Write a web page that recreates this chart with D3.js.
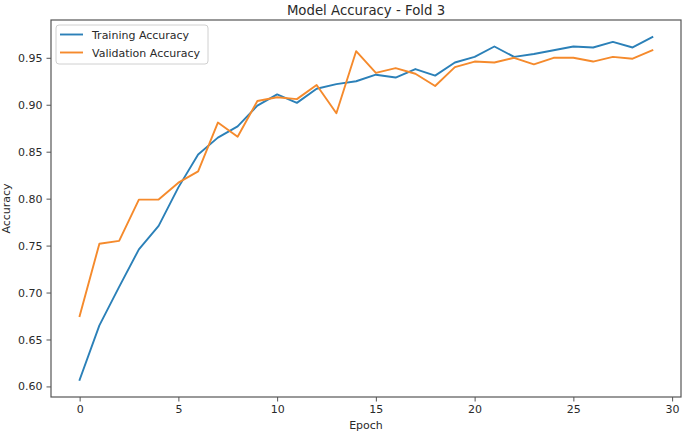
<!DOCTYPE html>
<html>
<head>
<meta charset="utf-8">
<script src="https://cdn.jsdelivr.net/npm/d3@7"></script>
<style>
  html, body { margin: 0; padding: 0; background: #fff; }
  svg { display: block; font-family: "DejaVu Sans", sans-serif; }
</style>
</head>
<body>
<svg id="chart" width="685" height="437"></svg>
<script>
const epochs = d3.range(0, 30);
const trainingAccuracy = [0.607, 0.665, 0.706, 0.746, 0.771, 0.812, 0.847, 0.865, 0.877, 0.899,
  0.911, 0.902, 0.917, 0.922, 0.925, 0.932, 0.929, 0.938, 0.931, 0.945,
  0.951, 0.962, 0.951, 0.954, 0.958, 0.962, 0.961, 0.967, 0.961, 0.972];
const validationAccuracy = [0.675, 0.752, 0.755, 0.799, 0.799, 0.817, 0.829, 0.881, 0.866, 0.904,
  0.908, 0.906, 0.921, 0.891, 0.957, 0.934, 0.939, 0.933, 0.920, 0.940,
  0.946, 0.945, 0.950, 0.943, 0.950, 0.950, 0.946, 0.951, 0.949, 0.958];
const seriesNames = ["Training Accuracy", "Validation Accuracy"];
const xTicks = [0, 5, 10, 15, 20, 25, 30];
const yTicks = [0.60, 0.65, 0.70, 0.75, 0.80, 0.85, 0.90, 0.95];
const titleText = "Model Accuracy - Fold 3";
const xLabel = "Epoch";
const yLabel = "Accuracy";

const colors = ["#2b80b8", "#f58a2c"];
const m = { left: 51, right: 681, top: 20, bottom: 397 };
const svg = d3.select("#chart");

const allVals = trainingAccuracy.concat(validationAccuracy);
const yMin = d3.min(allVals), yMax = d3.max(allVals);
const yPad = (yMax - yMin) * 0.05;
const xPad = (epochs[epochs.length - 1] - epochs[0]) * 0.05;

const x = d3.scaleLinear().domain([epochs[0] - xPad, epochs[epochs.length - 1] + xPad]).range([m.left, m.right]);
const y = d3.scaleLinear().domain([yMin - yPad, yMax + yPad]).range([m.bottom, m.top]);

const fontSize = 11;
const axisColor = "#555";
const textColor = "#2a2a2a";

// X axis
const xAxis = svg.append("g").attr("transform", `translate(0,${m.bottom})`)
  .call(d3.axisBottom(x).tickValues(xTicks).tickFormat(d3.format("d")).tickSize(4.5).tickPadding(4));
// Y axis
const yAxis = svg.append("g").attr("transform", `translate(${m.left},0)`)
  .call(d3.axisLeft(y).tickValues(yTicks).tickFormat(d3.format(".2f")).tickSize(4.5).tickPadding(4));

[xAxis, yAxis].forEach(g => {
  g.select(".domain").remove();
  g.selectAll(".tick line").attr("stroke", axisColor).attr("stroke-width", 1);
  g.selectAll(".tick text").attr("fill", textColor).style("font-size", fontSize + "px")
    .style("font-family", "'DejaVu Sans', sans-serif");
});

// Lines
const line = d3.line().x((d, i) => x(epochs[i])).y(d => y(d));
[trainingAccuracy, validationAccuracy].forEach((s, i) => {
  svg.append("path").datum(s)
    .attr("fill", "none").attr("stroke", colors[i]).attr("stroke-width", 1.9)
    .attr("stroke-linejoin", "round").attr("stroke-linecap", "square")
    .attr("d", line);
});

// Spines
svg.append("rect")
  .attr("x", m.left).attr("y", m.top)
  .attr("width", m.right - m.left).attr("height", m.bottom - m.top)
  .attr("fill", "none").attr("stroke", axisColor).attr("stroke-width", 1.2);

// Title
svg.append("text").attr("x", (m.left + m.right) / 2).attr("y", 15)
  .attr("text-anchor", "middle").style("font-size", "13.3px").attr("fill", textColor)
  .text(titleText);

// X label
svg.append("text").attr("x", (m.left + m.right) / 2).attr("y", 429)
  .attr("text-anchor", "middle").style("font-size", fontSize + "px").attr("fill", textColor)
  .text(xLabel);

// Y label
svg.append("text")
  .attr("transform", `translate(10,${(m.top + m.bottom) / 2}) rotate(-90)`)
  .attr("text-anchor", "middle").style("font-size", fontSize + "px").attr("fill", textColor)
  .text(yLabel);

// Legend
const lg = svg.append("g");
lg.append("rect").attr("x", 56).attr("y", 25).attr("width", 152).attr("height", 39)
  .attr("rx", 3).attr("fill", "#fff").attr("fill-opacity", 0.8)
  .attr("stroke", "#d0d0d0").attr("stroke-width", 1);
seriesNames.forEach((name, i) => {
  const yy = 34.5 + i * 18;
  lg.append("line").attr("x1", 60).attr("x2", 83).attr("y1", yy).attr("y2", yy)
    .attr("stroke", colors[i]).attr("stroke-width", 1.9);
  lg.append("text").attr("x", 92).attr("y", yy + 4).style("font-size", fontSize + "px")
    .attr("fill", textColor).text(name);
});
</script>
</body>
</html>
